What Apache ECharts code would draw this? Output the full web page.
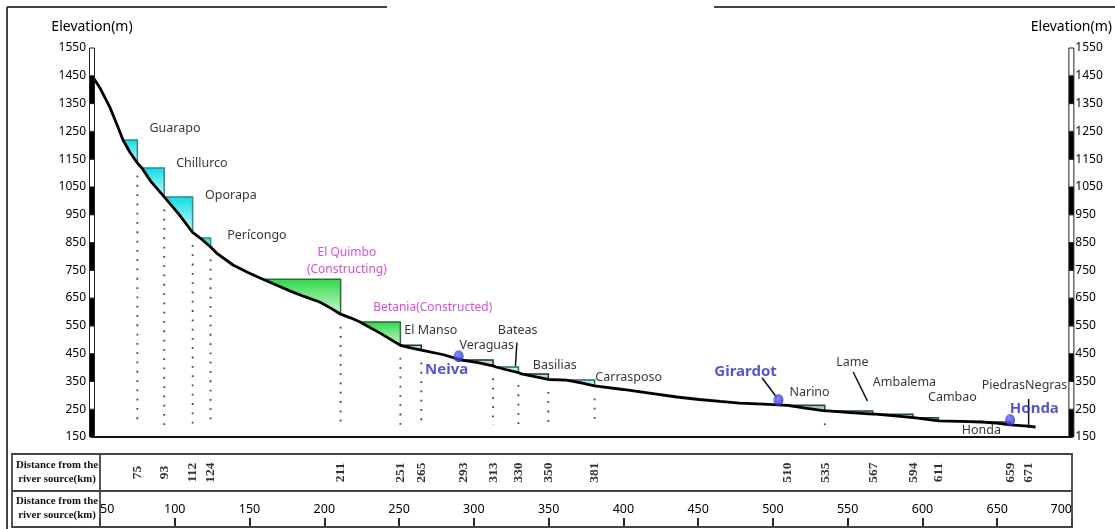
<!DOCTYPE html>
<html><head><meta charset="utf-8">
<script src="https://cdn.jsdelivr.net/npm/echarts@6/dist/echarts.min.js"></script>
<style>html,body{margin:0;padding:0;background:#fff}#c{width:1115px;height:529px}</style>
</head><body><div id="c"></div>
<script>
// ---------- data ----------
const elevTicks = [150,250,350,450,550,650,750,850,950,1050,1150,1250,1350,1450,1550];
const distTicks = [50,100,150,200,250,300,350,400,450,500,550,600,650,700];
const damTableKm = [75,93,112,124,211,251,265,293,313,330,350,381,510,535,567,594,611,659,671];

const profileKm   = [44.7,50,56.5,62,65.4,70,75,78,84,93,103,112,117,124,128,139,149,159,168,177,187,197,205,211,218,224,238,251,258,265,280,292,303,313,315,322,330,332,341,350,362,372,381,400,420,436,451,465,478,494,510,522,535,537,552,567,569,582,594,596,611,626,640,650,659,671,676];
const profileElev = [1450,1406,1338,1266,1219,1175,1136,1118,1070,1014,950,886,866,834,812,769,742,718,697,676,655,636,612,592,578,564,522,480,471,463,446,427,418,406,402,392,382,377,367,357,355,345,334,321,306,294,285,278,272,268,264,254,244,244,238,232,232,226,220,219,208,206,204,200,194,189,186];

const resNames = ['Guarapo','Chillurco','Oporapa','Pericongo','El Quimbo','Betania','El Manso','Veraguas','Bateas','Basilias','Carrasposo','Narino','Lame','Ambalema','Cambao','Honda'];
const resStart = [65.4,78,93,117,159,224,251,292,315,332,362,510,537,569,596,640];
const resDam   = [75,93,112,124,211,251,265,313,330,350,381,535,567,594,611,659];
const resLevel = [1219,1118,1014,866,718,564,480,427,402,377,355,264,244,232,219,204];
const resKind  = ['cyan','cyan','cyan','cyan','green','green','pale','pale','paleCyan','pale','paleCyan','grey','grey','grey','grey','grey'];

const dottedKm = [75,93,112,124,211,251,265,313,330,350,381,535];

const townNames = ['Neiva','Girardot','Honda'];
const townKm    = [290,504,659];
const townElev  = [441,283,211];

const leaderFromKm = [329,493,554,671.4];
const leaderFromEl = [490,363,384,287];
const leaderToKm   = [328,503,563.5,671.4];
const leaderToEl   = [405,291,280,183];

const blackLabels = ['Guarapo','Chillurco','Oporapa','Perícongo','El Manso','Veraguas','Bateas','Basilias','Carrasposo','Lame','Narino','Ambalema','Cambao','PiedrasNegras','Honda'];
const blackLabelKm = [100.2,118.2,137.6,155,271.4,308.8,329.5,354.3,403.8,553.5,524.8,588.3,620.4,668.6,639.8];
const blackLabelEl = [1262,1136,1021,877,532,481,532,409,363,417,312,345,291,337,172];
const pinkLabels = ['El Quimbo','(Constructing)','Betania(Constructed)'];
const pinkLabelKm = [215.2,215.2,272.7];
const pinkLabelEl = [812,751,615];
const blueLabelKm = [282,482,675.2];
const blueLabelEl = [391,384,251];

// ---------- helpers / styles ----------
const X_MIN = 44.65, X_MAX = 700, Y_MIN = 150, Y_MAX = 1550;
const FONT = 'Noto Sans';
const resStyle = {
  cyan:     {top:'#12dde8', bottom:'#c8f8f8', line:'#2f8c8c'},
  green:    {top:'#2fd84a', bottom:'#cdf8d0', line:'#2c6a36'},
  pale:     {top:'#a3dbbd', bottom:'#e2f5ea', line:'#1d3328'},
  paleCyan: {top:'#a2e6e6', bottom:'#e0f8f8', line:'#2a6a6a'},
  grey:     {top:'#8bb5a4', bottom:'#d3e6de', line:'#24463a'}
};
function interp(k){
  for (let i=0;i<profileKm.length-1;i++){
    if (k>=profileKm[i] && k<=profileKm[i+1]){
      const t=(k-profileKm[i])/(profileKm[i+1]-profileKm[i]);
      return profileElev[i]+t*(profileElev[i+1]-profileElev[i]);
    }
  }
  return k<profileKm[0]?profileElev[0]:profileElev[profileElev.length-1];
}
function plain(v){ return String(v); }

// axis scale bar segments
const barData = [];
[X_MIN, X_MAX].forEach(function(x){
  for (let v=150; v<1550; v+=100){
    barData.push([x, v, v+100, ((v-150)/100)%2===0 ? 1 : 0]);
  }
});

const chart = echarts.init(document.getElementById('c'));
const option = {
  animation:false,
  backgroundColor:'#fff',
  textStyle:{fontFamily:FONT},
  grid:[
    {left:92, right:43, top:48, bottom:92},
    {left:100, right:43, top:454, height:37},
    {left:100, right:43, top:491, height:36}
  ],
  xAxis:[
    {gridIndex:0, type:'value', min:X_MIN, max:X_MAX, axisLine:{show:true, lineStyle:{color:'#111', width:2}}, axisTick:{show:false}, axisLabel:{show:false}, splitLine:{show:false}},
    {gridIndex:1, type:'value', min:50, max:700, show:false},
    {gridIndex:2, type:'value', min:50, max:700, interval:50,
      axisLine:{show:true, lineStyle:{color:'#444', width:1.8}}, splitLine:{show:false},
      axisTick:{show:true, inside:true, length:9, lineStyle:{color:'#111', width:1.8}},
      axisLabel:{show:true, inside:true, margin:11, color:'#000', fontSize:12.5, fontFamily:FONT, formatter:plain, alignMinLabel:'left', alignMaxLabel:'right', showMinLabel:true, showMaxLabel:true}}
  ],
  yAxis:[
    {gridIndex:0, type:'value', min:Y_MIN, max:Y_MAX, position:'left',
      name:'Elevation(m)', nameLocation:'end', nameGap:14, nameTextStyle:{color:'#000', fontSize:14, fontFamily:FONT, align:'center'},
      axisLine:{show:false}, axisTick:{show:false}, splitLine:{show:false},
      axisLabel:{customValues:elevTicks, formatter:plain, margin:6, color:'#000', fontSize:12, fontFamily:FONT}},
    {gridIndex:0, type:'value', min:Y_MIN, max:Y_MAX, position:'right',
      name:'Elevation(m)', nameLocation:'end', nameGap:14, nameTextStyle:{color:'#000', fontSize:14, fontFamily:FONT, align:'center'},
      axisLine:{show:false}, axisTick:{show:false}, splitLine:{show:false},
      axisLabel:{customValues:elevTicks, formatter:plain, margin:4, color:'#000', fontSize:12, fontFamily:FONT}},
    {gridIndex:1, type:'value', min:0, max:1, show:false},
    {gridIndex:2, type:'value', min:0, max:1, show:false}
  ],
  graphic:[
    // page frame
    {type:'line', shape:{x1:7,y1:7,x2:387,y2:7}, style:{stroke:'#444', lineWidth:2}, z:1},
    {type:'line', shape:{x1:714,y1:7,x2:1115,y2:7}, style:{stroke:'#444', lineWidth:2}, z:1},
    {type:'line', shape:{x1:7,y1:7,x2:7,y2:529}, style:{stroke:'#444', lineWidth:2}, z:1},
    // tables
    {type:'rect', shape:{x:12,y:454,width:1060,height:73}, style:{fill:null, stroke:'#444', lineWidth:1.8}, z:1},
    {type:'line', shape:{x1:12,y1:491,x2:1072,y2:491}, style:{stroke:'#444', lineWidth:1.8}, z:1},
    {type:'line', shape:{x1:100,y1:454,x2:100,y2:527}, style:{stroke:'#444', lineWidth:1.8}, z:1},
    {type:'text', x:57, y:458, style:{text:'Distance from the\nriver source(km)', fill:'#111', font:'bold 10.8px "Liberation Serif"', lineHeight:14, align:'center'}},
    {type:'text', x:57, y:494, style:{text:'Distance from the\nriver source(km)', fill:'#111', font:'bold 10.8px "Liberation Serif"', lineHeight:14, align:'center'}}
  ],
  series:[
    // reservoirs
    {type:'custom', xAxisIndex:0, yAxisIndex:0, clip:false, z:3,
      data: resDam.map(function(d,i){return [d, resLevel[i], i];}),
      encode:{x:0, y:1},
      renderItem:function(params, api){
        const i = params.dataIndex;
        const s = resStart[i], d = resDam[i], lv = resLevel[i];
        const pts = [[s,lv],[d,lv],[d,interp(d)]];
        for (let j=profileKm.length-1;j>=0;j--){
          if (profileKm[j]<d && profileKm[j]>s) pts.push([profileKm[j], profileElev[j]]);
        }
        pts.push([s, interp(s)]);
        const px = pts.map(function(p){return api.coord(p);});
        const st = resStyle[resKind[i]];
        return {type:'group', children:[
          {type:'polygon', shape:{points:px}, style:{fill:new echarts.graphic.LinearGradient(0,0,0,1,[{offset:0,color:st.top},{offset:1,color:st.bottom}]), stroke:null}},
          {type:'polyline', shape:{points:px.slice(0,3)}, style:{stroke:st.line, lineWidth:1.5, fill:null}}
        ]};
      }
    },
    // dotted lines
    {type:'custom', xAxisIndex:0, yAxisIndex:0, clip:false, z:2,
      data: dottedKm.map(function(k){return [k, interp(k)];}),
      encode:{x:0, y:1},
      renderItem:function(params, api){
        const k = api.value(0);
        const top = api.value(1) - 45;
        const a = api.coord([k, top]), b = api.coord([k, 193]);
        if (a[1] >= b[1]) { return {type:'circle', shape:{cx:b[0], cy:b[1], r:1}, style:{fill:'#444'}}; }
        return {type:'line', shape:{x1:a[0],y1:a[1],x2:b[0],y2:b[1]}, style:{stroke:'#444', lineWidth:1.8, lineDash:[1.8,7.5]}};
      }
    },
    // profile
    {type:'line', xAxisIndex:0, yAxisIndex:0, z:5, symbol:'none', smooth:false,
      data: profileKm.map(function(k,i){return [k, profileElev[i]];}),
      lineStyle:{color:'#000', width:2.8}
    },
    // leader lines
    {type:'custom', xAxisIndex:0, yAxisIndex:0, clip:false, z:5,
      data: leaderFromKm.map(function(k,i){return [k, leaderFromEl[i], leaderToKm[i], leaderToEl[i]];}),
      encode:{x:0, y:1},
      renderItem:function(params, api){
        const a = api.coord([api.value(0), api.value(1)]), b = api.coord([api.value(2), api.value(3)]);
        return {type:'line', shape:{x1:a[0],y1:a[1],x2:b[0],y2:b[1]}, style:{stroke:'#111', lineWidth:1.5}};
      }
    },
    // axis scale bars
    {type:'custom', xAxisIndex:0, yAxisIndex:0, clip:false, z:6,
      data: barData, encode:{x:0, y:1},
      renderItem:function(params, api){
        const top = api.coord([api.value(0), api.value(2)]);
        const bot = api.coord([api.value(0), api.value(1)]);
        return {type:'rect', shape:{x:top[0]-2.5, y:top[1], width:5, height:bot[1]-top[1]},
          style:{fill: api.value(3) ? '#000' : '#fff', stroke:'#222', lineWidth:1}};
      }
    },
    // town markers
    {type:'scatter', xAxisIndex:0, yAxisIndex:0, z:7, symbol:'circle', symbolSize:[10,12],
      data: townKm.map(function(k,i){return {name:townNames[i], value:[k, townElev[i]]};}),
      itemStyle:{color:new echarts.graphic.RadialGradient(0.4,0.35,0.7,[{offset:0,color:'#6a6aff'},{offset:1,color:'#2424c4'}])}
    },
    // black labels
    {type:'scatter', xAxisIndex:0, yAxisIndex:0, z:8, symbolSize:1, itemStyle:{color:'rgba(0,0,0,0)'},
      data: blackLabels.map(function(n,i){return {name:n, value:[blackLabelKm[i], blackLabelEl[i]]};}),
      label:{show:true, position:'inside', formatter:'{b}', color:'#000', fontSize:12.5, fontFamily:FONT}
    },
    // magenta labels
    {type:'scatter', xAxisIndex:0, yAxisIndex:0, z:8, symbolSize:1, itemStyle:{color:'rgba(0,0,0,0)'},
      data: pinkLabels.map(function(n,i){return {name:n, value:[pinkLabelKm[i], pinkLabelEl[i]]};}),
      label:{show:true, position:'inside', formatter:'{b}', color:'#cc22cc', fontSize:12, fontFamily:FONT}
    },
    // blue labels
    {type:'scatter', xAxisIndex:0, yAxisIndex:0, z:8, symbolSize:1, itemStyle:{color:'rgba(0,0,0,0)'},
      data: townNames.map(function(n,i){return {name:n, value:[blueLabelKm[i], blueLabelEl[i]]};}),
      label:{show:true, position:'inside', formatter:'{b}', color:'#2b2bc0', fontSize:15, fontWeight:'bold', fontFamily:FONT}
    },
    // table row 1: dam distances
    {type:'scatter', xAxisIndex:1, yAxisIndex:2, z:8, symbolSize:1, itemStyle:{color:'rgba(0,0,0,0)'},
      data: damTableKm.map(function(k){return [k, 0.5];}),
      label:{show:true, position:'inside', rotate:90, formatter:function(p){return String(p.value[0]);}, color:'#000', fontSize:13.5, fontWeight:'bold', fontFamily:'Liberation Serif'}
    },
    // table row 2 axis carrier
    {type:'scatter', xAxisIndex:2, yAxisIndex:3, data:[], symbolSize:0}
  ]
};
chart.setOption(option);
</script>
</body></html>
